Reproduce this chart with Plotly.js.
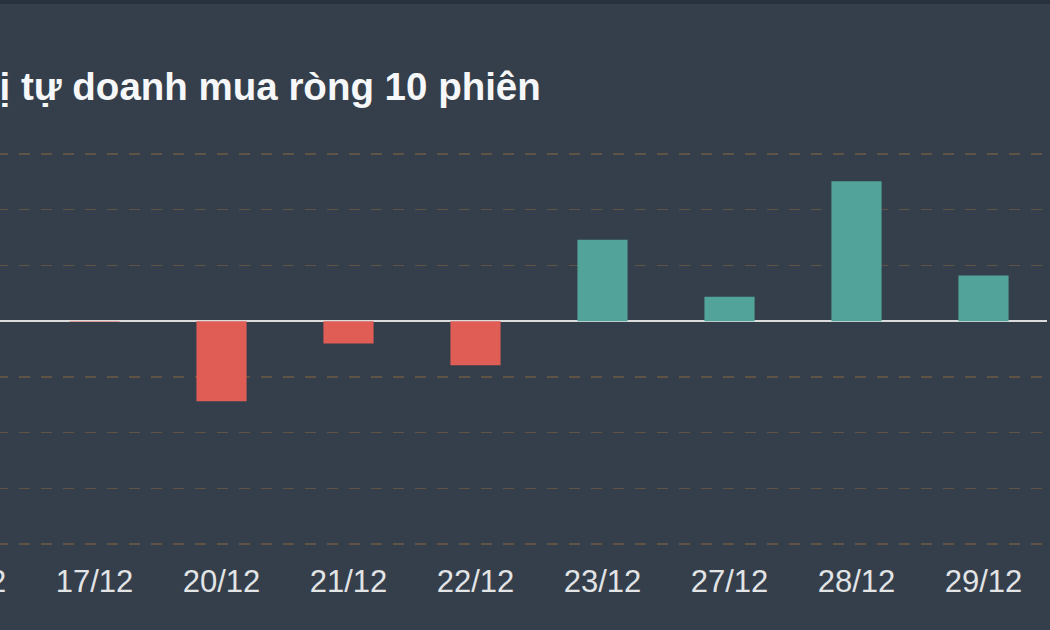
<!DOCTYPE html>
<html>
<head>
<meta charset="utf-8">
<script src="https://cdn.plot.ly/plotly-3.0.1.min.js"></script>
<style>
html, body { margin:0; padding:0; width:1050px; height:630px; overflow:hidden; background:#343f4b; }
#chart { position:absolute; left:-223px; top:0; width:1273px; height:630px; }
</style>
</head>
<body>
<div id="chart"></div>
<script>
const categories = ["15/12","16/12","17/12","20/12","21/12","22/12","23/12","27/12","28/12","29/12"];
const netBuy = [35, -18, -1, -144, -40, -79, 146, 44, 251, 82];
const chartTitle = "Giá trị tự doanh mua ròng 10 phiên";
const yTicks = [-400, -300, -200, -100, 0, 100, 200, 300];

const colors = netBuy.map(v => v >= 0 ? "#52a49a" : "#e05d56");
const pad = 2 * 700 / 390;

Plotly.newPlot("chart", [{
  type: "bar",
  x: categories,
  y: netBuy,
  marker: { color: colors, line: { width: 0 } },
  width: 0.395,
  hoverinfo: "x+y"
}], {
  width: 1273, height: 630,
  paper_bgcolor: "#343f4b",
  plot_bgcolor: "#343f4b",
  margin: { l: 0, r: 3, t: 152, b: 84 },
  showlegend: false,
  title: {
    text: chartTitle,
    font: { family: "Liberation Sans, Arial, sans-serif", size: 38.5, color: "#f6f7f8", weight: "bold" },
    xref: "container", x: 122/1273, xanchor: "left",
    yref: "container", y: 1 - 87/630, yanchor: "middle"
  },
  xaxis: {
    type: "category",
    showgrid: false, zeroline: false, showline: false,
    ticks: "", ticklabelstandoff: 14,
    tickfont: { family: "Liberation Sans, Arial, sans-serif", size: 31, color: "#e2e4e6" }
  },
  yaxis: {
    range: [-400 - pad, 300 + pad],
    tickvals: yTicks,
    showticklabels: false,
    showgrid: true, gridcolor: "#5f5346", gridwidth: 1.5, griddash: "11px,11px",
    zeroline: true, zerolinecolor: "#dcdcdc", zerolinewidth: 2,
    showline: false, ticks: ""
  },
  shapes: [{
    type: "rect", xref: "paper", yref: "paper",
    x0: -0.1, x1: 1.1, y0: 1 + 148/394, y1: 1 + 160/394,
    fillcolor: "#29323c", line: { width: 0 }
  }]
}, { displayModeBar: false, staticPlot: true });
</script>
</body>
</html>
